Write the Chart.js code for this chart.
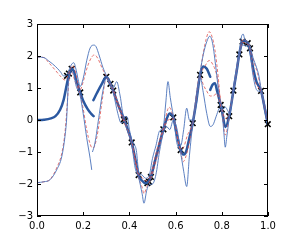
<!DOCTYPE html>
<html>
<head>
<meta charset="utf-8">
<script src="https://cdn.jsdelivr.net/npm/chart.js@4"></script>
<style>
  html, body { margin: 0; padding: 0; background: #fff; }
  canvas { display: block; }
</style>
</head>
<body>
<canvas id="chart" width="299" height="241"></canvas>
<script>
// tick labels
const xTicks = [0, 0.2, 0.4, 0.6, 0.8, 1.0];
const yTicks = [-3, -2, -1, 0, 1, 2, 3];

// observed points (x marks)
const obsX = [0.13, 0.138, 0.15, 0.187, 0.30, 0.318, 0.33, 0.376, 0.38, 0.41, 0.44, 0.478, 0.485, 0.493,
  0.547, 0.59, 0.622, 0.674, 0.706, 0.795, 0.80, 0.832, 0.85, 0.876, 0.89, 0.912, 0.922, 0.97, 0.999];
const obsY = [1.38, 1.45, 1.6, 0.86, 1.35, 1.13, 0.92, 0.02, -0.03, -0.7, -1.72, -1.97, -1.93, -1.78,
  -0.29, 0.08, -0.94, -0.1, 1.41, 0.47, 0.33, 0.12, 0.92, 2.05, 2.45, 2.4, 2.24, 0.91, -0.13];

// predictive means, one per local piece
const meanA = [[0,0],[0.03,0.01],[0.06,0.05],[0.08,0.12],[0.10,0.32],[0.115,0.62],[0.13,1.15],[0.14,1.45],
  [0.15,1.6],[0.16,1.52],[0.17,1.25],[0.187,0.86],[0.20,0.6],[0.22,0.33],[0.234,0.2],[0.245,0.12]];
const meanB = [[0.244,0.62],[0.26,0.85],[0.28,1.12],[0.30,1.35],[0.318,1.13],[0.33,0.92],[0.35,0.5],
  [0.378,0.0],[0.40,-0.45],[0.41,-0.7],[0.425,-1.2],[0.44,-1.72],[0.455,-1.9],[0.47,-1.98],[0.482,-1.93],
  [0.493,-1.78],[0.51,-1.3],[0.53,-0.75],[0.547,-0.29],[0.562,0.05],[0.575,0.2],[0.59,0.08],[0.605,-0.45],
  [0.622,-0.94],[0.633,-1.08],[0.645,-1.0],[0.66,-0.55],[0.674,-0.1],[0.69,0.6],[0.706,1.41],[0.72,1.67],
  [0.735,1.6],[0.75,1.35]];
const meanC = [[0.75,0.94],[0.76,1.1],[0.77,1.15],[0.78,0.9],[0.795,0.47],[0.80,0.31],[0.816,-0.22],
  [0.832,0.13],[0.85,0.9],[0.865,1.55],[0.876,2.08],[0.89,2.45],[0.90,2.48],[0.912,2.4],[0.922,2.2],
  [0.936,1.6],[0.95,1.2],[0.97,0.91],[0.985,0.4],[1.0,-0.15]];

// thin blue bounds
const blueHi = [[0,1.97],[0.03,1.95],[0.05,1.85],[0.068,1.75],[0.09,1.6],[0.104,1.48],[0.114,1.38],
  [0.125,1.38],[0.135,1.5],[0.148,1.72],[0.159,1.79],[0.17,1.55],[0.18,1.2],[0.187,1.05],[0.20,1.3],
  [0.215,1.85],[0.23,2.25],[0.245,2.34],[0.255,2.3],[0.27,2.0],[0.285,1.65],[0.30,1.4],[0.315,1.2],
  [0.33,1.0],[0.345,1.2],[0.36,0.75],[0.376,0.1],[0.39,0.1],[0.40,-0.3],[0.41,-0.6],[0.42,-0.75],
  [0.43,-0.95],[0.44,-1.6],[0.455,-1.72],[0.47,-1.82],[0.485,-1.75],[0.50,-1.2],[0.515,-0.8],[0.53,-0.35],
  [0.547,-0.2],[0.557,0.5],[0.567,1.2],[0.577,0.7],[0.59,0.15],[0.605,-0.25],[0.622,-0.8],[0.635,-0.3],
  [0.648,0.37],[0.66,0.0],[0.674,0.0],[0.69,0.8],[0.706,1.5],[0.72,2.05],[0.735,2.45],[0.748,2.62],
  [0.76,2.4],[0.775,1.6],[0.788,0.8],[0.797,0.5],[0.805,0.35],[0.816,0.4],[0.825,0.3],[0.834,0.2],
  [0.85,1.0],[0.865,1.7],[0.876,2.15],[0.885,2.6],[0.893,2.68],[0.90,2.5],[0.912,2.45],[0.922,2.3],
  [0.935,1.95],[0.95,1.65],[0.96,1.4],[0.97,0.98],[0.985,0.5],[1.0,-0.05]];
const blueLoA = [[0,-1.96],[0.03,-1.93],[0.056,-1.87],[0.085,-1.56],[0.107,-1.15],[0.121,-0.52],[0.128,0],
  [0.136,1.15],[0.145,1.45],[0.155,1.5],[0.17,1.05],[0.187,0.75],[0.20,0.2],[0.215,-0.55],[0.23,-1.2],
  [0.237,-1.56]];
const blueLoB = [[0.24,-1.0],[0.25,-0.75],[0.27,0.2],[0.285,0.9],[0.30,1.3],[0.315,1.08],[0.33,0.85],
  [0.35,0.2],[0.365,-0.1],[0.378,-0.05],[0.39,-0.3],[0.41,-0.78],[0.425,-1.5],[0.44,-1.8],[0.455,-2.3],
  [0.463,-2.6],[0.475,-2.2],[0.485,-2.02],[0.50,-2.0],[0.515,-1.7],[0.53,-1.0],[0.547,-0.4],[0.56,-0.2],
  [0.575,-0.3],[0.59,0.0],[0.605,-0.7],[0.622,-1.05],[0.635,-1.6],[0.648,-2.08],[0.66,-1.1],[0.674,-0.15],
  [0.69,0.5],[0.706,1.35],[0.72,0.85],[0.735,0.2],[0.75,-0.2],[0.762,-0.15],[0.775,0.1],[0.788,0.35],
  [0.797,0.4],[0.803,0.1],[0.809,-0.4],[0.815,-0.85],[0.822,-0.5],[0.832,0.05],[0.85,0.85],[0.865,1.5],
  [0.876,2.0],[0.89,2.35],[0.90,2.32],[0.912,2.3],[0.922,2.1],[0.935,1.4],[0.95,0.95],[0.96,0.9],
  [0.97,0.85],[0.985,0.3],[1.0,-0.2]];

// red dashed bounds
const redHi = [[0,1.97],[0.03,1.95],[0.05,1.8],[0.08,1.55],[0.10,1.38],[0.121,1.25],[0.13,1.33],[0.14,1.5],
  [0.152,1.7],[0.165,1.55],[0.177,1.15],[0.187,0.95],[0.20,1.2],[0.22,1.7],[0.24,2.0],[0.25,2.03],
  [0.265,1.9],[0.28,1.65],[0.30,1.37],[0.33,0.95],[0.35,0.55],[0.376,0.05],[0.40,-0.45],[0.41,-0.68],
  [0.44,-1.68],[0.455,-1.8],[0.47,-1.9],[0.49,-1.75],[0.52,-0.9],[0.547,-0.25],[0.572,0.4],[0.59,0.1],
  [0.622,-0.9],[0.635,-0.85],[0.65,-0.5],[0.674,-0.08],[0.706,1.45],[0.72,2.1],[0.733,2.55],[0.745,2.76],
  [0.757,2.62],[0.77,2.2],[0.785,1.3],[0.795,0.5],[0.80,0.35],[0.815,0.05],[0.832,0.17],[0.85,0.95],
  [0.876,2.1],[0.89,2.5],[0.912,2.44],[0.922,2.28],[0.94,1.8],[0.955,1.45],[0.97,0.95],[1.0,-0.1]];
const redLo = [[0,-1.96],[0.03,-1.93],[0.056,-1.86],[0.085,-1.5],[0.107,-1.05],[0.121,-0.4],[0.13,0.4],
  [0.138,1.2],[0.15,1.5],[0.165,1.2],[0.187,0.8],[0.20,0.35],[0.215,-0.3],[0.23,-0.75],[0.24,-0.88],
  [0.25,-0.8],[0.265,-0.3],[0.28,0.5],[0.30,1.3],[0.33,0.88],[0.35,0.45],[0.376,-0.05],[0.41,-0.75],
  [0.44,-1.8],[0.455,-2.1],[0.463,-2.3],[0.475,-2.1],[0.49,-1.88],[0.52,-1.15],[0.547,-0.33],[0.568,0.0],
  [0.59,0.03],[0.622,-1.0],[0.633,-1.3],[0.65,-1.0],[0.674,-0.12],[0.706,1.38],[0.72,1.1],[0.735,0.9],
  [0.75,0.75],[0.765,0.76],[0.778,0.83],[0.79,0.6],[0.80,0.3],[0.815,-0.47],[0.832,0.1],[0.85,0.88],
  [0.876,2.02],[0.89,2.42],[0.912,2.37],[0.922,2.18],[0.94,1.3],[0.96,1.0],[0.97,0.88],[1.0,-0.15]];
const redLoop = [[0.715,1.55],[0.73,1.72],[0.745,1.86],[0.76,1.75],[0.778,1.4],[0.79,0.85],[0.797,0.5]];

const FONT = 'DejaVu Sans, sans-serif';
const THICK = '#2b58a0';
const THIN = '#4a72ba';
const RED = '#e0524e';

function pts(arr) {
  return arr.map(function (p) { return { x: p[0], y: p[1] }; });
}

function thinLine(arr) {
  return { data: pts(arr), borderColor: THIN, borderWidth: 0.9, pointRadius: 0,
    cubicInterpolationMode: 'monotone', fill: false };
}
function redLine(arr) {
  return { data: pts(arr), borderColor: RED, borderWidth: 0.8, borderDash: [3, 2], pointRadius: 0,
    cubicInterpolationMode: 'monotone', fill: false };
}
function meanLine(arr) {
  return { data: pts(arr), borderColor: THICK, borderWidth: 2.5, pointRadius: 0,
    cubicInterpolationMode: 'monotone', fill: false, borderCapStyle: 'round' };
}

// matplotlib-style box with inward ticks
const framePlugin = {
  id: 'frame',
  afterDraw: function (chart) {
    const ctx = chart.ctx;
    const a = chart.chartArea;
    const xs = chart.scales.x, ys = chart.scales.y;
    ctx.save();
    ctx.strokeStyle = '#000';
    ctx.lineWidth = 1;
    ctx.strokeRect(Math.round(a.left) + 0.5, Math.round(a.top) + 0.5,
      Math.round(a.right - a.left) - 1, Math.round(a.bottom - a.top) - 1);
    ctx.beginPath();
    xTicks.forEach(function (v) {
      const px = Math.round(xs.getPixelForValue(v)) + 0.5;
      ctx.moveTo(px, a.bottom); ctx.lineTo(px, a.bottom - 4);
      ctx.moveTo(px, a.top); ctx.lineTo(px, a.top + 4);
    });
    yTicks.forEach(function (v) {
      const py = Math.round(ys.getPixelForValue(v)) + 0.5;
      ctx.moveTo(a.left, py); ctx.lineTo(a.left + 4, py);
      ctx.moveTo(a.right, py); ctx.lineTo(a.right - 4, py);
    });
    ctx.stroke();
    ctx.restore();
  }
};

new Chart(document.getElementById('chart'), {
  type: 'line',
  data: {
    datasets: [
      thinLine(blueHi),
      thinLine(blueLoA),
      thinLine(blueLoB),
      redLine(redHi),
      redLine(redLo),
      redLine(redLoop),
      meanLine(meanA),
      meanLine(meanB),
      meanLine(meanC),
      {
        data: obsX.map(function (x, i) { return { x: x, y: obsY[i] }; }),
        showLine: false,
        pointStyle: 'crossRot',
        pointRadius: 4,
        borderColor: '#000',
        backgroundColor: '#000',
        pointBorderWidth: 1.6,
        clip: false
      }
    ]
  },
  options: {
    responsive: false,
    animation: false,
    devicePixelRatio: 1,
    layout: { padding: { top: 24, right: 31, left: 0, bottom: 0 } },
    plugins: { legend: { display: false }, tooltip: { enabled: false } },
    scales: {
      x: {
        type: 'linear', min: 0, max: 1,
        afterFit: function (s) { s.height = 25; },
        afterBuildTicks: function (s) { s.ticks = xTicks.map(function (v) { return { value: v }; }); },
        grid: { display: false, drawTicks: false },
        border: { display: false },
        ticks: {
          padding: 4, color: '#000', font: { size: 10, family: FONT }, maxRotation: 0,
          callback: function (v) { return v.toFixed(1); }
        }
      },
      y: {
        type: 'linear', min: -3, max: 3,
        afterFit: function (s) { s.width = 37; },
        afterBuildTicks: function (s) { s.ticks = yTicks.map(function (v) { return { value: v }; }); },
        grid: { display: false, drawTicks: false },
        border: { display: false },
        ticks: {
          padding: 4, color: '#000', font: { size: 10, family: FONT },
          callback: function (v) { return v < 0 ? '\u2212' + Math.abs(v) : String(v); }
        }
      }
    }
  },
  plugins: [framePlugin]
});
</script>
</body>
</html>
